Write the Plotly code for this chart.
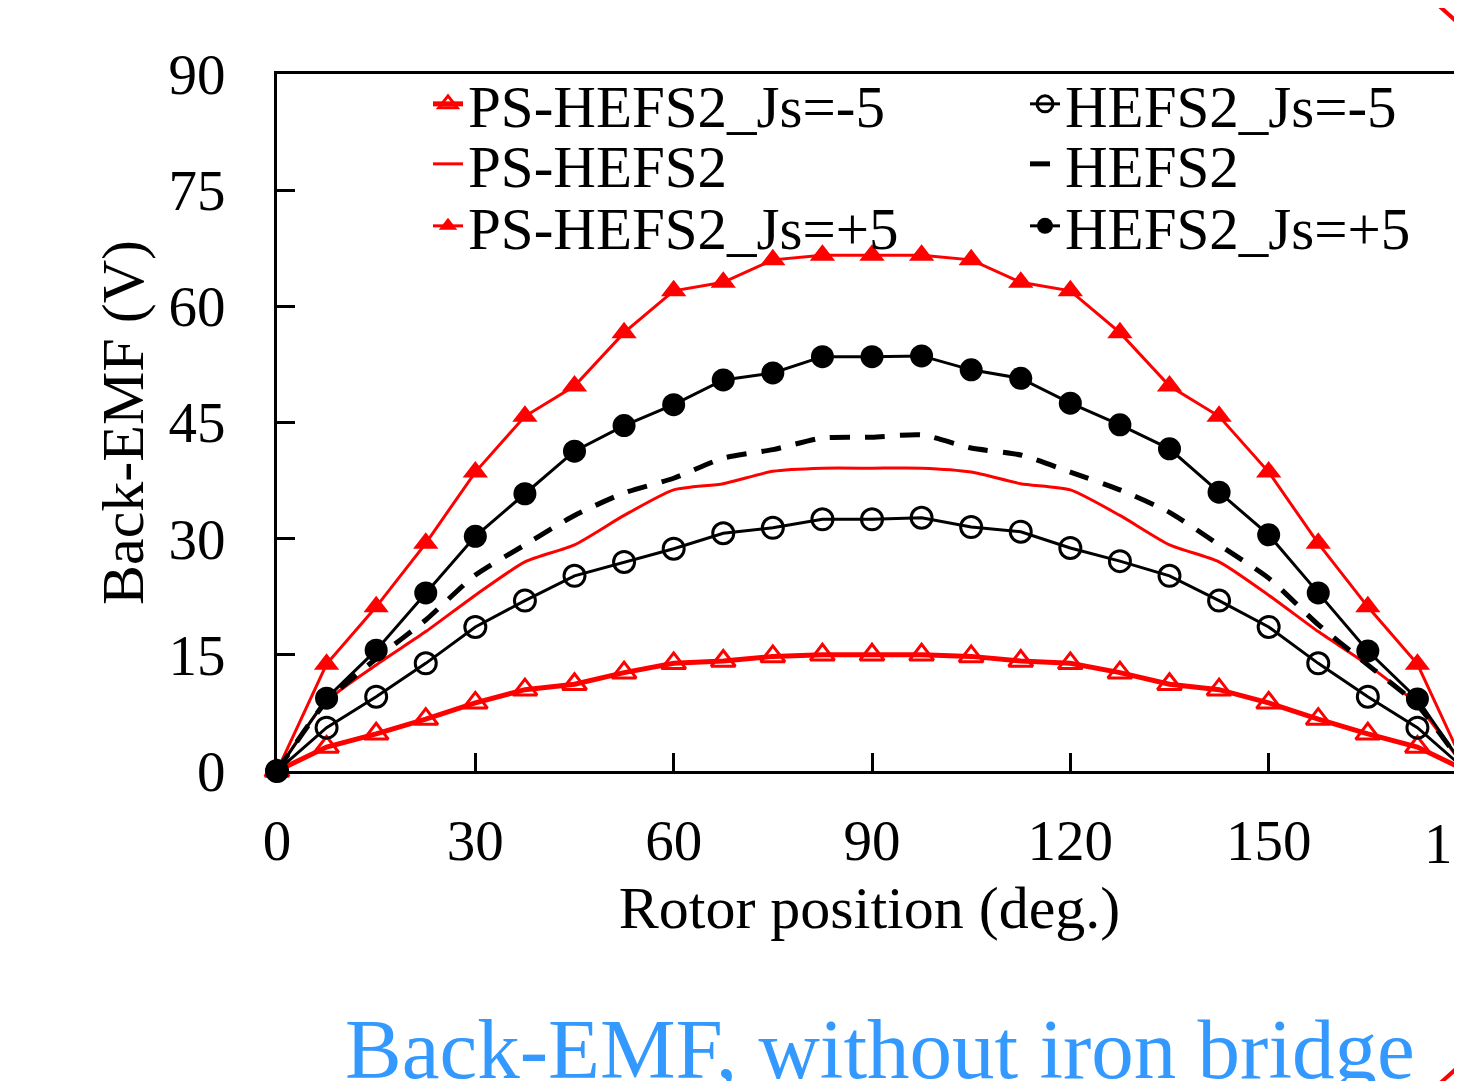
import plotly.graph_objects as go

# Rotor position (deg.)
theta = [0, 7.5, 15, 22.5, 30, 37.5, 45, 52.5, 60, 67.5, 75, 82.5, 90,
         97.5, 105, 112.5, 120, 127.5, 135, 142.5, 150, 157.5, 165, 172.5, 180]

ps_m5 = [0, 3.1, 4.8, 6.7, 8.8, 10.5, 11.2, 12.7, 13.9, 14.2, 14.8, 15.0, 15.0,
         15.0, 14.8, 14.2, 13.9, 12.7, 11.2, 10.5, 8.8, 6.7, 4.8, 3.1, 0]
ps_0 = [0, 9.0, 13.7, 18.0, 22.7, 27.0, 29.2, 33.0, 36.3, 37.1, 38.7, 39.1, 39.1,
        39.1, 38.6, 37.1, 36.3, 33.0, 29.2, 27.0, 22.7, 18.0, 13.7, 8.5, 0]
ps_p5 = [0, 13.8, 21.2, 29.4, 38.6, 45.8, 49.7, 56.6, 62.0, 63.1, 66.0, 66.6, 66.6,
         66.6, 66.0, 63.1, 62.0, 56.6, 49.7, 45.8, 38.6, 29.4, 21.2, 13.8, 0]
h_m5 = [0, 5.6, 9.6, 13.9, 18.6, 22.0, 25.2, 27.0, 28.7, 30.7, 31.4, 32.5, 32.5,
        32.7, 31.5, 30.9, 28.8, 27.1, 25.2, 22.0, 18.6, 13.9, 9.6, 5.6, 0]
h_0 = [0, 9.0, 14.5, 19.5, 25.3, 29.2, 33.0, 35.9, 37.8, 40.4, 41.5, 43.0, 43.1,
       43.4, 41.7, 40.8, 38.6, 36.3, 33.4, 29.2, 24.9, 18.9, 13.7, 8.5, 0]
h_p5 = [0, 9.4, 15.6, 23.0, 30.3, 35.8, 41.3, 44.6, 47.3, 50.5, 51.4, 53.5, 53.5,
        53.6, 51.8, 50.7, 47.5, 44.7, 41.6, 36.0, 30.5, 23.0, 15.5, 9.3, 0]

x_ticks = [0, 30, 60, 90, 120, 150]
x_last_tick = 180
y_ticks = [0, 15, 30, 45, 60, 75, 90]

FONT = "Liberation Serif, Times New Roman, serif"
RED = "#FF0000"
BLACK = "#000000"

fig = go.Figure()

fig.add_trace(go.Scatter(
    x=theta, y=ps_m5, name="PS-HEFS2_Js=-5", mode="lines+markers",
    line=dict(color=RED, width=5),
    marker=dict(symbol="triangle-up-open", size=21, color=RED, line=dict(width=3, color=RED)),
    cliponaxis=False, legend="legend"))
fig.add_trace(go.Scatter(
    x=theta, y=ps_0, name="PS-HEFS2", mode="lines",
    line=dict(color=RED, width=3, shape="spline", smoothing=0.6),
    cliponaxis=False, legend="legend2"))
fig.add_trace(go.Scatter(
    x=theta, y=ps_p5, name="PS-HEFS2_Js=+5", mode="lines+markers",
    line=dict(color=RED, width=3),
    marker=dict(symbol="triangle-up", size=22, color=RED),
    cliponaxis=False, legend="legend3"))
fig.add_trace(go.Scatter(
    x=theta, y=h_m5, name="HEFS2_Js=-5", mode="lines+markers",
    line=dict(color=BLACK, width=3),
    marker=dict(symbol="circle-open", size=21, color=BLACK, line=dict(width=3, color=BLACK)),
    cliponaxis=False, legend="legend4"))
fig.add_trace(go.Scatter(
    x=theta, y=h_0, name="HEFS2", mode="lines",
    line=dict(color=BLACK, width=5, dash="20px,15px", shape="spline", smoothing=0.6),
    cliponaxis=False, legend="legend5"))
fig.add_trace(go.Scatter(
    x=theta, y=h_p5, name="HEFS2_Js=+5", mode="lines+markers",
    line=dict(color=BLACK, width=3),
    marker=dict(symbol="circle", size=23, color=BLACK),
    cliponaxis=False, legend="legend6"))

# figure-pixel geometry (the page body adds an 8px offset; page = 1462x1081)
W, H = 1454, 1073
L, T, B, R = 269, 66, 763, 1454
X180 = 1459                      # where x=180 would sit (just past the visible edge)
PW, PH = R - L, B - T
x_max = x_last_tick * (R - L) / (X180 - L)


def px(X):
    return (X - L) / PW


def py(Y):
    return (B - Y) / PH


legend_font = dict(family=FONT, size=59, color=BLACK)


def leg(xp, yp):
    return dict(x=px(xp), y=py(yp), xanchor="left", yanchor="middle",
                bgcolor="rgba(0,0,0,0)", font=legend_font, itemwidth=30,
                tracegroupgap=0)


x1 = 420
x2 = 1017
rows = [96, 156, 218]

fig.update_layout(
    width=W, height=H,
    margin=dict(l=L, r=W - R, t=T, b=H - B, pad=0),
    paper_bgcolor="white", plot_bgcolor="white",
    font=dict(family=FONT, size=57, color=BLACK),
    legend=leg(x1, rows[0]),
    legend2=leg(x1, rows[1]),
    legend3=leg(x1, rows[2]),
    legend4=leg(x2, rows[0]),
    legend5=leg(x2, rows[1]),
    legend6=leg(x2, rows[2]),
    xaxis=dict(
        range=[0, x_max],
        tickmode="array", tickvals=x_ticks, ticktext=[str(v) for v in x_ticks],
        ticks="inside", ticklen=18, tickwidth=3, tickcolor=BLACK,
        showline=True, linewidth=3, linecolor=BLACK, mirror=True,
        showgrid=False, zeroline=False,
        tickfont=dict(family=FONT, size=57, color=BLACK),
        ticklabelstandoff=18,
        title=dict(text="Rotor position (deg.)", font=dict(family=FONT, size=60, color=BLACK), standoff=15),
    ),
    yaxis=dict(
        range=[0, 90],
        tickmode="array", tickvals=y_ticks, ticktext=[str(v) for v in y_ticks],
        ticks="inside", ticklen=18, tickwidth=3, tickcolor=BLACK,
        showline=True, linewidth=3, linecolor=BLACK, mirror=False,
        showgrid=False, zeroline=False,
        tickfont=dict(family=FONT, size=57, color=BLACK),
        ticklabelstandoff=37,
        title=dict(text="Back-EMF (V)", font=dict(family=FONT, size=60, color=BLACK), standoff=6),
    ),
    showlegend=True,
)

# last x tick label, which sits on the right edge of the view and is cut off there
fig.add_annotation(text=str(x_last_tick), xref="paper", yref="paper",
                   x=px(X180), y=py(835), xanchor="center", yanchor="middle",
                   showarrow=False, font=dict(family=FONT, size=57, color=BLACK))

# caption
fig.add_annotation(text="Back-EMF, without iron bridge", xref="paper", yref="paper",
                   x=px(335), y=py(992), xanchor="left", yanchor="top", showarrow=False,
                   font=dict(family=FONT, size=85, color="#3399FF"))

# red ellipse outline (mostly outside the view)
fig.add_shape(type="circle", xref="paper", yref="paper",
              x0=px(-919), x1=px(1703), y0=py(1421), y1=py(-347),
              line=dict(color=RED, width=4), fillcolor="rgba(0,0,0,0)", layer="above")

fig.write_html("out.html")
